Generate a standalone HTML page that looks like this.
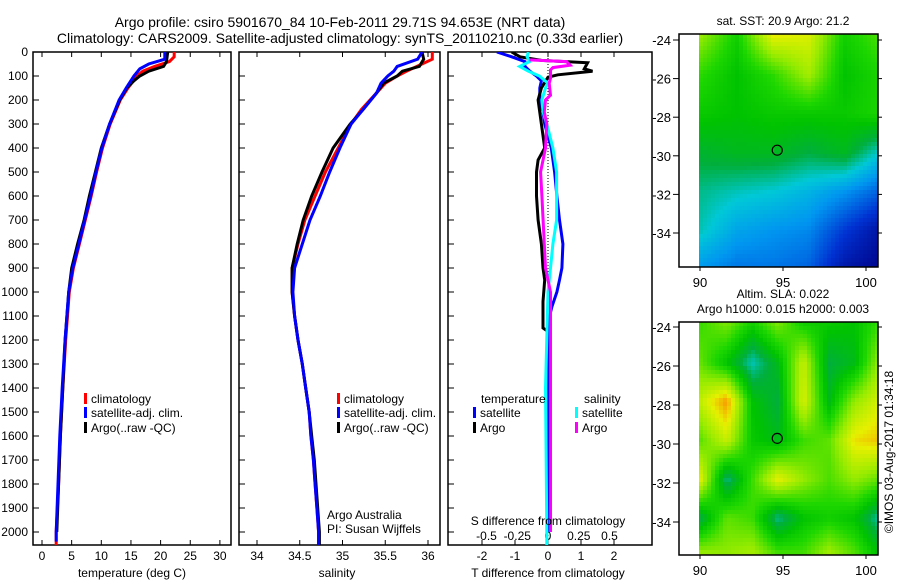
<!DOCTYPE html>
<html><head><meta charset="utf-8">
<style>
body{margin:0;background:#fff;}
svg{display:block;font-family:"Liberation Sans",sans-serif;}
text{fill:#000;}
</style></head>
<body>
<svg id="fig" width="900" height="580" viewBox="0 0 900 580">
<text x="340" y="27" font-size="14" text-anchor="middle">Argo profile: csiro 5901670_84 10-Feb-2011 29.71S 94.653E (NRT data)</text>
<text x="340" y="43" font-size="14" text-anchor="middle">Climatology: CARS2009. Satellite-adjusted climatology: synTS_20110210.nc (0.33d earlier)</text>
<defs>
<clipPath id="c1"><rect x="33" y="52" width="198" height="493"/></clipPath>
<clipPath id="c2"><rect x="239" y="52" width="201" height="493"/></clipPath>
<clipPath id="c3"><rect x="448" y="52" width="204" height="493"/></clipPath>
</defs>
<g id="layer"></g>
</svg>
<script>
// ---- data ----
const tClimDepth=[0,20,40,60,80,100,150,200,300,400,500,600,700,800,900,1000,1200,1400,1600,1800,2000,2055];
const tClim=[22.3,22.3,21.5,19,17,16,14.5,13.2,11.5,10.2,9.2,8.3,7.3,6.3,5.3,4.6,4.0,3.5,3.1,2.8,2.4,2.4];
const tSatDepth=[0,30,50,70,100,150,200,300,400,500,600,700,800,900,1000,1200,1400,1600,1800,2000,2040];
const tSat=[20.7,20.7,18,16.5,15.5,14.2,13,11.4,10.1,9.1,8.2,7.2,6.2,5.2,4.5,3.9,3.4,3.0,2.7,2.4,2.4];
const tArgoDepth=[0,40,60,80,100,120,150,200,300,400,500,600,700,800,900,1000,1200,1400,1600,1800,2000];
const tArgo=[21.2,21,20.5,18,16.5,15.5,14.3,13.1,11.4,10,9,8,7.1,6,5,4.5,3.9,3.5,3.1,2.8,2.5];

const sDepth=[0,30,60,80,100,130,170,240,300,400,500,600,700,800,900,1000,1100,1200,1300,1400,1500,1600,1700,1800,1900,2000,2055];
const sClim=[36.05,36.05,35.87,35.75,35.64,35.5,35.4,35.22,35.1,34.95,34.8,34.68,34.56,34.48,34.41,34.41,34.44,34.48,34.53,34.57,34.61,34.63,34.66,34.68,34.7,34.72,34.72];
const sSat=[35.93,35.88,35.64,35.6,35.53,35.45,35.4,35.24,35.1,34.97,34.85,34.74,34.62,34.53,34.44,34.42,34.44,34.48,34.53,34.57,34.61,34.63,34.66,34.68,34.7,34.72,34.72];
const sArgo=[35.93,35.95,35.9,35.7,35.64,35.48,35.4,35.24,35.09,34.89,34.76,34.64,34.54,34.47,34.41,34.41,34.44,34.48,34.53,34.57,34.61,34.64,34.67,34.69,34.71,34.73,34.73];

const dTSatDepth=[0,20,40,60,80,100,120,150,200,250,300,400,500,600,700,800,900,950,1000,1060,1100,1200,1500,2000];
const dTSat=[-1.55,-1.1,-0.7,-0.7,-0.55,-0.35,-0.2,-0.25,-0.25,-0.15,-0.1,0.1,0.2,0.27,0.35,0.45,0.42,0.35,0.27,0.12,0.05,0.02,0.02,0.02];
const dTArgoDepth=[0,20,35,45,70,80,95,105,150,200,300,400,450,500,600,700,800,900,950,1040,1150,1160];
const dTArgo=[-1.1,-0.85,-0.2,1.2,1.1,1.35,0.3,0.0,-0.2,-0.3,-0.2,-0.1,-0.3,-0.35,-0.35,-0.3,-0.2,-0.15,-0.1,-0.15,-0.15,-0.05];
const dSSatDepth=[0,20,40,60,80,100,130,150,200,250,300,400,500,600,700,800,900,1000,1400,2000,2055];
const dSSat=[-0.16,-0.17,-0.15,-0.23,-0.16,-0.07,0,-0.02,-0.05,-0.04,-0.01,0.04,0.07,0.07,0.07,0.04,0.02,0.0,-0.02,-0.01,-0.01];
const dSArgoDepth=[33,40,55,65,75,110,130,180,200,250,300,400,500,600,700,800,900,1000,1500,2000];
const dSArgo=[-0.15,0.15,0.18,0.04,0.02,0.02,0.01,0.02,-0.02,-0.03,-0.01,-0.02,-0.06,-0.05,-0.04,-0.03,-0.02,0.02,0.02,0.02];

const depthTicks=[0,100,200,300,400,500,600,700,800,900,1000,1100,1200,1300,1400,1500,1600,1700,1800,1900,2000];
const tTicks=[0,5,10,15,20,25,30];
const sTicks=[34,34.5,35,35.5,36];
const dTTicks=[-2,-1,0,1,2];
const dSTicks=[-0.5,-0.25,0,0.25,0.5];
const lonTicks=[90,95,100];
const latTicks=[-24,-26,-28,-30,-32,-34];

// SST map coarse grid (rows lat -24..-36 step 2, cols lon 90..100.7)
const sstGrid=[
[0.78,0.62,0.9,0.88,0.62,0.7],
[0.66,0.58,0.66,0.8,0.58,0.64],
[0.6,0.58,0.6,0.6,0.6,0.64],
[0.52,0.54,0.54,0.5,0.54,0.4],
[0.45,0.42,0.4,0.36,0.3,0.22],
[0.42,0.33,0.3,0.28,0.16,0.06],
[0.3,0.25,0.25,0.22,0.07,0.02]];
const slaGrid=[
[0.68,0.75,0.62,0.75,0.62,0.6,0.58,0.68],
[0.72,0.58,0.42,0.55,0.85,0.5,0.55,0.8],
[0.85,1.0,0.58,0.5,0.88,0.55,0.78,0.88],
[0.72,0.85,0.6,0.55,0.68,0.72,0.92,0.95],
[0.88,0.45,0.68,0.9,0.78,0.7,0.78,0.72],
[0.5,0.72,0.68,0.45,0.58,0.62,0.58,0.42],
[0.82,0.78,0.82,0.72,0.7,0.82,0.72,0.58]];

// ---- scales ----
const yD=d=>52+d*0.24;
const xT=t=>42+t*5.93;
const xS=s=>257+(s-34)*85.5;
const xdT=v=>548+v*33;
const xdS=v=>548+v*123;

const NS="http://www.w3.org/2000/svg";
const L=document.getElementById('layer');
function mk(tag,attrs,parent){const e=document.createElementNS(NS,tag);for(const k in attrs)e.setAttribute(k,attrs[k]);(parent||L).appendChild(e);return e;}
function txt(x,y,s,size,anchor,parent){const e=mk('text',{x:x,y:y,'font-size':size,'text-anchor':anchor||'start'},parent);e.textContent=s;return e;}
function line(xs,ds,fx,color,clip,name){
  const pts=xs.map((v,i)=>fx(v).toFixed(1)+','+yD(ds[i]).toFixed(1)).join(' ');
  const e=mk('polyline',{points:pts,fill:'none',stroke:color,'stroke-width':3,'clip-path':'url(#'+clip+')'});
  
  
}

const panels=[[33,231,'c1'],[239,440,'c2'],[448,652,'c3']];
panels.forEach((p,i)=>{
  const r=mk('rect',{x:p[0],y:52,width:p[1]-p[0],height:493,fill:'none',stroke:'#000','stroke-width':1.5});
  
  
  depthTicks.forEach(d=>{mk('line',{x1:p[0],x2:p[0]+6,y1:yD(d),y2:yD(d),stroke:'#000'});});
});
depthTicks.forEach(d=>{const e=txt(28,yD(d)+4,String(d),12,'end');
  
  });
function xticks(ticks,fx,y){ticks.forEach(v=>{
  mk('line',{x1:fx(v),x2:fx(v),y1:52,y2:57,stroke:'#000'});
  mk('line',{x1:fx(v),x2:fx(v),y1:540,y2:545,stroke:'#000'});
  const e=txt(fx(v),y,String(v),12,'middle');
  
  });}
xticks(tTicks,xT,560);
xticks(sTicks,xS,560);
xticks(dTTicks,xdT,560);
dSTicks.forEach(v=>{const e=txt(xdS(v),540,String(v),12,'middle');
  
  });
mk('line',{x1:548,x2:548,y1:52,y2:545,stroke:'#000','stroke-dasharray':'1,2','stroke-width':1});

line(tClim,tClimDepth,xT,'#f00','c1','temp-climatology-line');
line(tArgo,tArgoDepth,xT,'#000','c1','temp-argo-line');
line(tSat,tSatDepth,xT,'#00f','c1','temp-satellite-line');
line(sClim,sDepth,xS,'#f00','c2','sal-climatology-line');
line(sArgo,sDepth,xS,'#000','c2','sal-argo-line');
line(sSat,sDepth,xS,'#00f','c2','sal-satellite-line');
line(dTSat,dTSatDepth,xdT,'#00f','c3','tdiff-satellite-line');
line(dTArgo,dTArgoDepth,xdT,'#000','c3','tdiff-argo-line');
line(dSSat,dSSatDepth,xdS,'#0ff','c3','sdiff-satellite-line');
line(dSArgo,dSArgoDepth,xdS,'#f0f','c3','sdiff-argo-line');

[[132,'temperature (deg C)','temperature-axis-title'],[337,'salinity','salinity-axis-title'],[548,'T difference from climatology','t-diff-axis-title']].forEach(a=>{
  const e=txt(a[0],577,a[1],12,'middle');
  
  });
const sdt=txt(548,525,'S difference from climatology',12,'middle');



function leg(x,y,color,label,name){
  mk('rect',{x:x,y:y-10,width:3,height:11,fill:color});
  const e=txt(x+7,y,label,12,'start');
  
  }
[[84],[337]].forEach(p=>{
  leg(p[0],403,'#f00','climatology','legend-climatology');
  leg(p[0],417,'#00f','satellite-adj. clim.','legend-satellite-adj');
  leg(p[0],432,'#000','Argo(..raw -QC)','legend-argo');});
const lt=txt(481,403,'temperature',12,'start');


const ls=txt(584,403,'salinity',12,'start');


leg(473,417,'#00f','satellite','legend-t-satellite');
leg(473,432,'#000','Argo','legend-t-argo');
leg(575,417,'#0ff','satellite','legend-s-satellite');
leg(575,432,'#f0f','Argo','legend-s-argo');
const a1=txt(327,519,'Argo Australia',12,'start');


const a2=txt(327,533,'PI: Susan Wijffels',12,'start');



// ---- maps ----
const stops=[[0,[0,0,130]],[0.15,[0,50,210]],[0.3,[0,150,240]],[0.4,[0,200,215]],[0.5,[0,175,60]],[0.58,[0,195,0]],[0.65,[30,215,0]],[0.78,[150,235,0]],[0.9,[230,240,0]],[1,[250,150,0]]];
function cmap(v){v=Math.max(0,Math.min(1,v));for(let i=1;i<stops.length;i++){if(v<=stops[i][0]){const a=stops[i-1],b=stops[i];const f=(v-a[0])/(b[0]-a[0]);return 'rgb('+a[1].map((c,k)=>Math.round(c+(b[1][k]-c)*f)).join(',')+')';}}return 'rgb(250,150,0)';}
function bil(g,u,w){const R=g.length-1,C=g[0].length-1;const fy=Math.max(0,Math.min(R,w*R)),fx=Math.max(0,Math.min(C,u*C));
  const r0=Math.min(Math.floor(fy),R-1),c0=Math.min(Math.floor(fx),C-1);const ty=fy-r0,tx=fx-c0;
  return g[r0][c0]*(1-tx)*(1-ty)+g[r0][c0+1]*tx*(1-ty)+g[r0+1][c0]*(1-tx)*ty+g[r0+1][c0+1]*tx*ty;}
function drawMap(top,yLat,grid,title1,title2,mapName){
  const g=mk('g',{});
  
  
  const x0=699,x1=878,y0=top,y1=top+233,cs=4;
  for(let y=y0;y<y1;y+=cs){for(let x=x0;x<x1;x+=cs){
    const v=bil(grid,(x-x0)/(x1-x0),(y-y0)/(y1-y0));
    const c=mk('rect',{x:x,y:y,width:Math.min(cs,x1-x),height:Math.min(cs,y1-y),fill:cmap(v)},g);
    
    
  }}
  const f=mk('rect',{x:679,y:y0,width:199,height:233,fill:'none',stroke:'#000','stroke-width':1.5});
  
  
  latTicks.forEach(l=>{const y=yLat(l);
    mk('line',{x1:673,x2:679,y1:y,y2:y,stroke:'#000'});
    mk('line',{x1:878,x2:882,y1:y,y2:y,stroke:'#000'});
    const e=txt(671,y+5,String(l),13,'end');
    
    });
  lonTicks.forEach(l=>{const x=700+(l-90)*16.6;
    mk('line',{x1:x,x2:x,y1:y1,y2:y1+4,stroke:'#000'});
    const e=txt(x,y1+20,String(l),13,'middle');
    
    });
  const ci=mk('circle',{cx:700+(94.653-90)*16.6,cy:yLat(-29.71),r:5,fill:'none',stroke:'#000','stroke-width':1.2});
  
  
  if(title2){const t=txt(783,y0-9,title2,12,'middle');}
  const t1=txt(783,title2?y0-24:y0-9,title1,12,'middle');
  
  
}
drawMap(34,l=>40+(-24-l)*19.3,sstGrid,'sat. SST: 20.9 Argo: 21.2',null,'sst-map');
drawMap(322,l=>327+(-24-l)*19.5,slaGrid,'Altim. SLA: 0.022','Argo h1000: 0.015 h2000: 0.003','sla-map');
const cr=mk('text',{x:0,y:0,'font-size':12,'text-anchor':'middle',transform:'translate(893,452) rotate(-90)'});
cr.textContent='©IMOS 03-Aug-2017 01:34:18';


</script>
</body></html>
